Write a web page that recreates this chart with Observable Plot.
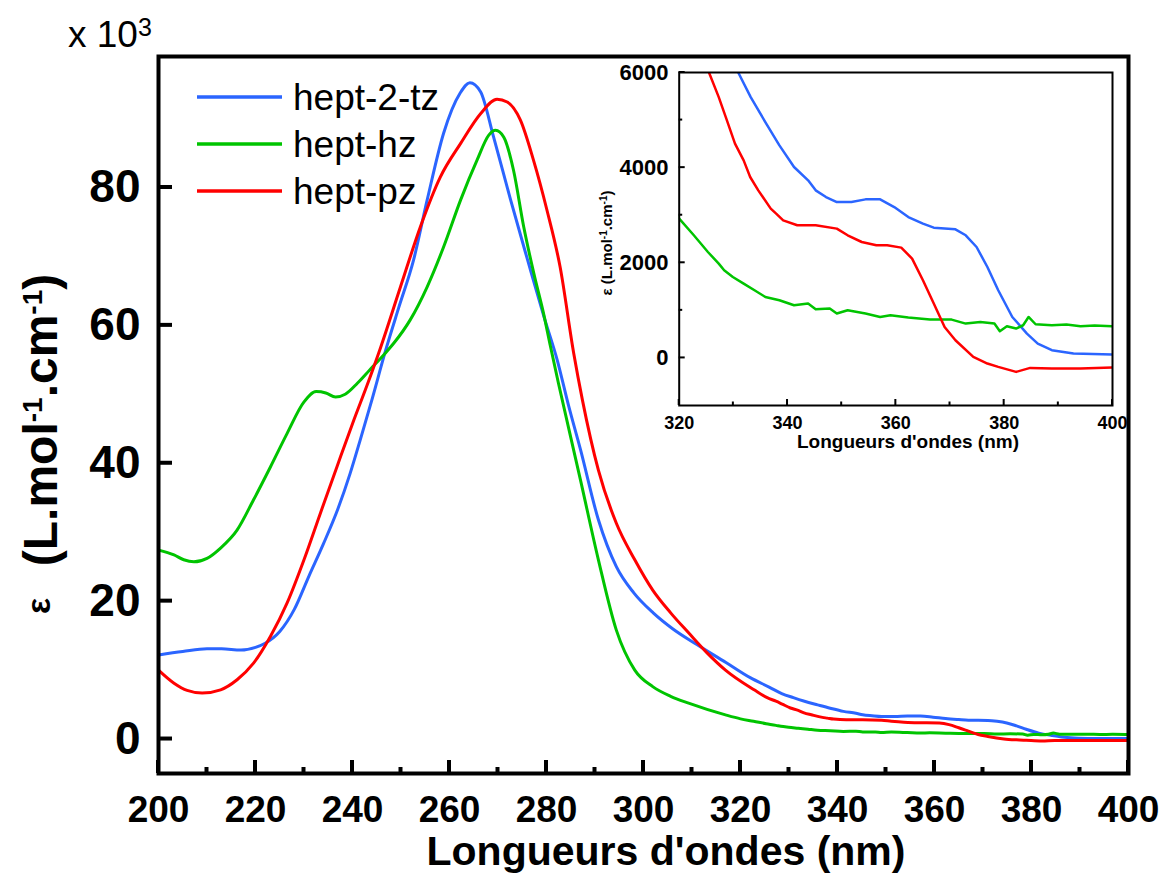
<!DOCTYPE html>
<html><head><meta charset="utf-8">
<script src="https://cdn.jsdelivr.net/npm/d3@7"></script>
<script src="https://cdn.jsdelivr.net/npm/@observablehq/plot@0.6"></script>
<style>
body{margin:0;background:#fff;}
#wrap{position:relative;width:1166px;height:876px;background:#fff;overflow:hidden;}
#wrap svg{position:absolute;}
</style></head><body><div id="wrap"></div>
<script>
const FONT = "'Liberation Sans', Arial, sans-serif";
const seriesNames = ["hept-2-tz", "hept-hz", "hept-pz"];
const seriesColors = ["#2B65FF", "#00C400", "#FF0000"];

// epsilon values in 10^3 L.mol-1.cm-1
const tzWl  = [200,205,210,213,217,220,222,225,228,231,234,237,239.5,241.6,244,246.8,249.5,252.6,255.4,258.8,262.2,264.2,266.4,269.1,272.6,276.1,279.5,282.2,284.5,287,290.7,294.4,298,302,306,311,317,322,326,328.5,330.9,333.2,335.9,338.5,341.2,343.8,345.2,347.1,349.1,351.8,354.4,357.1,359.7,362.3,365,367,371,372.9,374.9,376.9,378.9,381.5,384.2,386.2,388.8,392.8,400];
const tzEps = [12.2,12.7,13.1,13.1,12.9,13.3,13.9,15.6,18.8,23.6,28.3,33.4,38.5,43.4,49.2,56.3,62.5,69.5,78.2,87.9,93.7,95.2,93.9,87.3,78.2,69.5,61.2,55,48.5,42,31.8,25,21.2,18.3,16,13.7,11.1,8.9,7.5,6.6,6.0,5.483,4.958,4.468,4.013,3.733,3.523,3.382,3.277,3.277,3.333,3.333,3.172,2.962,2.823,2.739,2.704,2.578,2.332,1.912,1.422,0.861,0.512,0.302,0.162,0.092,0.071];

const hzWl  = [200,203.2,205.2,207.3,210,212.8,216.2,219.6,223.1,226.5,230,232.5,234.5,236.5,238.5,241,243.5,246.8,248.5,251.9,255.4,258.8,262.3,265.7,268.1,269.5,271.2,273.2,275.3,277.4,279.4,280.8,282.5,287,290.7,294.4,298.2,301.9,305.6,309.3,316.9,320,322.7,325.3,327.3,328.3,329.9,331.9,333.9,335.9,338.5,341.2,343.8,345.2,347.8,349.1,351.1,354.4,357.1,359,362.3,366.3,370.3,372.9,375.6,378.2,379.2,380.5,382.2,383.5,384.5,385.8,388.8,391.5,394.1,396.7,400];
const hzEps = [27.4,26.7,26,25.7,26.2,27.7,30.3,34.7,39.5,44.3,48.9,50.4,50.2,49.6,50.0,51.6,53.5,56.0,57.4,60.8,65.6,71.4,78.2,84,87.6,88.3,87.3,82.5,74.3,67.5,61.7,57.0,51.5,37.6,26,15.8,10,7.6,6.2,5.2,3.5,2.928,2.578,2.227,1.983,1.842,1.702,1.562,1.422,1.282,1.212,1.107,1.143,1.023,1.037,0.933,1.002,0.933,0.861,0.897,0.848,0.806,0.806,0.722,0.757,0.722,0.561,0.666,0.617,0.687,0.861,0.708,0.687,0.701,0.666,0.680,0.666];

const pzWl  = [200,203.2,205.9,209,212.8,216.2,219.6,223.1,226.5,230,233.4,236.8,240.3,243,245.8,249.9,254,258.1,262.3,266.4,269.8,271.9,274.6,277.3,280.1,282.8,285.6,287.4,290.7,294.4,298.2,301.9,305.6,309.3,313.1,316.9,322.9,325.5,327.3,328.6,330.3,331.9,333.1,334.6,336.9,337.9,339.2,341.8,345.2,349.1,351.1,353.7,356.4,358.4,361,363,365,367,369,371,374.3,376.9,378.9,382.2,384.8,388.8,394.1,400];
const pzEps = [10.0,8.1,7.05,6.67,7.14,8.6,11.0,14.9,19.7,26,32.8,39.5,46.3,51.3,56.8,65.6,74.3,81.5,86.4,90.7,92.8,92.4,89.8,84,76.7,68.5,56,49.2,39,31.3,26,21.6,18.3,15.4,12.5,10,7.1,6.0,5.483,5.063,4.504,4.153,3.803,3.523,3.138,3.033,2.893,2.788,2.788,2.718,2.578,2.437,2.368,2.368,2.319,2.088,1.632,1.143,0.651,0.372,0.021,-0.118,-0.189,-0.294,-0.210,-0.223,-0.223,-0.202];

const xTicks = [200,220,240,260,280,300,320,340,360,380,400];
const xMinorTicks = [210,230,250,270,290,310,330,350,370,390];
const yTicks = [0,20,40,60,80];
const insetXTicks = [320,340,360,380,400];
const insetXMinor = [330,350,370,390];
const insetYTicks = [0,2000,4000,6000];
const insetYMinor = [1000,3000,5000];

const rows = [];
[[tzWl, tzEps], [hzWl, hzEps], [pzWl, pzEps]].forEach(([w, e], i) =>
  w.forEach((x, j) => rows.push({series: seriesNames[i], wl: x, eps: e[j]})));

const wrap = document.getElementById("wrap");

// inward tick marks drawn through the plot's own scales
function addTicks(svg, plot, {xMajor, xMinor, yMajor, yMinor, left, bottom, w, xLen, xMinLen, yLen, yMinLen}) {
  const sx = plot.scale("x"), sy = plot.scale("y");
  const g = d3.select(svg).append("g").attr("fill", "black");
  xMajor.forEach(v => g.append("rect").attr("x", sx.apply(v) - w / 2).attr("y", bottom - xLen).attr("width", w).attr("height", xLen));
  xMinor.forEach(v => g.append("rect").attr("x", sx.apply(v) - w / 2).attr("y", bottom - xMinLen).attr("width", w).attr("height", xMinLen));
  yMajor.forEach(v => g.append("rect").attr("x", left).attr("y", sy.apply(v) - w / 2).attr("width", yLen).attr("height", w));
  yMinor.forEach(v => g.append("rect").attr("x", left).attr("y", sy.apply(v) - w / 2).attr("width", yMinLen).attr("height", w));
}

// ---------- inset ----------
const IW = 560, IH = 400, IML = 98.7, IMR = 28, IMT = 12, IMB = 55;
const inset = Plot.plot({
  width: IW, height: IH,
  marginLeft: IML, marginRight: IMR, marginTop: IMT, marginBottom: IMB,
  style: {background: "transparent", overflow: "visible", fontFamily: FONT, color: "black"},
  x: {domain: [320, 400], label: null},
  y: {domain: [-1000, 6000], label: null},
  color: {domain: seriesNames, range: seriesColors},
  marks: [
    Plot.line(rows, {x: "wl", y: d => d.eps * 1000, z: "series", stroke: "series", strokeWidth: 2.5, curve: "linear", clip: true}),
    Plot.axisX(insetXTicks, {tickSize: 0, tickPadding: 11, fontSize: 18, fontWeight: "bold", label: null, tickFormat: d3.format("d")}),
    Plot.axisY(insetYTicks, {tickSize: 0, tickPadding: 10.7, fontSize: 22, fontWeight: "bold", label: null, tickFormat: d3.format("d")}),
    Plot.frame({stroke: "black", strokeWidth: 2})
  ]
});
inset.style.left = "580px";
inset.style.top = "60px";
wrap.appendChild(inset);
addTicks(inset, inset, {xMajor: insetXTicks, xMinor: insetXMinor, yMajor: insetYTicks, yMinor: insetYMinor,
  left: IML, bottom: IH - IMB, w: 2, xLen: 6, xMinLen: 3.5, yLen: 6, yMinLen: 3.5});
{
  const s = d3.select(inset);
  s.append("text").attr("x", 328).attr("y", 388).attr("text-anchor", "middle")
    .style("font", `bold 19px ${FONT}`).attr("fill", "black").text("Longueurs d'ondes (nm)");
  const t = s.append("text").attr("transform", "translate(32,183) rotate(-90)").attr("text-anchor", "middle")
    .style("font", `bold 15px ${FONT}`).attr("fill", "black");
  t.append("tspan").text("ε (L.mol");
  t.append("tspan").attr("baseline-shift", "super").style("font-size", "10px").text("-1");
  t.append("tspan").text(".cm");
  t.append("tspan").attr("baseline-shift", "super").style("font-size", "10px").text("-1");
  t.append("tspan").text(")");
}

// ---------- main ----------
const W = 1166, H = 876, ML = 158, MR = 38, MT = 56, MB = 103;
const main = Plot.plot({
  width: W, height: H,
  marginLeft: ML, marginRight: MR, marginTop: MT, marginBottom: MB,
  style: {background: "transparent", overflow: "visible", fontFamily: FONT, color: "black"},
  x: {domain: [200, 400], label: null},
  y: {domain: [-5, 99], label: null},
  color: {domain: seriesNames, range: seriesColors},
  marks: [
    Plot.line(rows, {x: "wl", y: "eps", z: "series", stroke: "series", strokeWidth: 3, curve: "monotone-x"}),
    Plot.axisX(xTicks, {tickSize: 0, tickPadding: 22, fontSize: 37, fontWeight: "bold", label: null}),
    Plot.axisY(yTicks, {tickSize: 0, tickPadding: 18, fontSize: 46, fontWeight: "bold", label: null}),
    Plot.frame({stroke: "black", strokeWidth: 4})
  ]
});
main.style.left = "0px";
main.style.top = "0px";
wrap.appendChild(main);
addTicks(main, main, {xMajor: xTicks, xMinor: xMinorTicks, yMajor: yTicks, yMinor: [],
  left: ML, bottom: H - MB, w: 4, xLen: 13, xMinLen: 6, yLen: 14, yMinLen: 6});
{
  const s = d3.select(main);
  // x10^3
  const m = s.append("text").attr("x", 68).attr("y", 47).attr("text-anchor", "start")
    .style("font", `37px ${FONT}`).attr("fill", "black");
  m.append("tspan").text("x 10");
  m.append("tspan").attr("dy", -11).style("font-size", "25px").text("3");
  // x title
  s.append("text").attr("x", 666).attr("y", 865).attr("text-anchor", "middle")
    .style("font", `bold 41px ${FONT}`).attr("fill", "black").text("Longueurs d'ondes (nm)");
  // y title
  s.append("text").attr("transform", "translate(50,606) rotate(-90)").attr("text-anchor", "middle")
    .style("font", `bold 34px ${FONT}`).attr("fill", "black").text("ε");
  const t = s.append("text").attr("transform", "translate(57,420) rotate(-90)").attr("text-anchor", "middle")
    .style("font", `bold 48px ${FONT}`).attr("fill", "black");
  t.append("tspan").text("(L.mol");
  t.append("tspan").attr("baseline-shift", "super").style("font-size", "28px").text("-1");
  t.append("tspan").text(".cm");
  t.append("tspan").attr("baseline-shift", "super").style("font-size", "28px").text("-1");
  t.append("tspan").text(")");
  // legend
  const lg = s.append("g");
  seriesNames.forEach((name, i) => {
    const y = 97 + i * 47;
    lg.append("line").attr("x1", 197).attr("x2", 282).attr("y1", y).attr("y2", y)
      .attr("stroke", seriesColors[i]).attr("stroke-width", 3.5);
    lg.append("text").attr("x", 293).attr("y", y + 13).attr("text-anchor", "start")
      .style("font", `37px ${FONT}`).attr("fill", "black").text(name);
  });
}
</script></body></html>
